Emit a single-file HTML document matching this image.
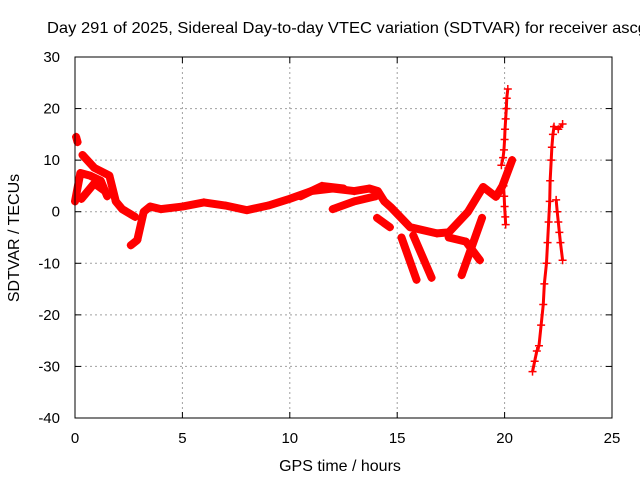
<!DOCTYPE html>
<html><head><meta charset="utf-8"><style>
body{margin:0;background:#fff;}
svg{display:block;font-family:"Liberation Sans",sans-serif;}
</style></head><body>
<svg id="chart" width="640" height="480" viewBox="0 0 640 480" xmlns="http://www.w3.org/2000/svg">
<rect width="640" height="480" fill="#fff"/>
<text x="47" y="33" font-size="16" textLength="600" lengthAdjust="spacingAndGlyphs" fill="#000">Day 291 of 2025, Sidereal Day-to-day VTEC variation (SDTVAR) for receiver ascg</text>
<g id="grid"></g>
<g id="axes"></g>
<g id="series"></g>
<rect x="75" y="57" width="537" height="361" fill="none" stroke="#000" stroke-width="1"/>
<text x="340" y="471" font-size="16" text-anchor="middle">GPS time / hours</text>
<text transform="translate(19,238) rotate(-90)" font-size="16" text-anchor="middle">SDTVAR / TECUs</text>
</svg>
<script>
const xTicks=[0,5,10,15,20,25];
const yTicks=[-40,-30,-20,-10,0,10,20,30];
// dense tracks [hour, TECU]
const trackStart=[[0.05,14.5],[0.12,13.5]];
const trackA=[[0,2],[0.25,7.5],[0.7,7],[1.2,6],[1.5,3]];
const trackB=[[0.35,11],[0.9,8.5],[1.6,7],[1.9,2],[2.2,0.5],[2.6,-0.5],[2.8,-1]];
const trackC=[[0.3,2.5],[0.9,5.5],[1.4,4]];
const trackMain=[[2.6,-6.5],[2.9,-5.5],[3.2,0],[3.5,1],[4,0.5],[5,1],[6,1.8],[7,1.2],[8,0.3],[9,1.2],[10,2.5],[11,4],[12,4.5],[13,4],[13.7,4.5],[14.1,4],[14.4,2],[14.7,0.9],[15.6,-3],[16.85,-4.2],[17.4,-4]];
const trackUpper=[[10.5,3],[11.5,5],[12.5,4.5]];
const trackLower=[[12,0.5],[13,2],[14,3]];
const trackRise=[[17.4,-4],[18.3,0],[19,4.8],[19.6,2.9],[19.9,5],[20.35,10]];
const trackSide=[[14.06,-1.2],[14.66,-3]];
const trackFall1=[[15.2,-5],[15.9,-13.2]];
const trackFall2=[[15.75,-4.6],[16.6,-12.8]];
const trackFall3=[[18.95,-1.2],[18,-12.3]];
const trackFall4=[[17.4,-5],[18.2,-5.8],[18.85,-9.4]];
// sparse tracks
const spike1=[[20.15,23.8],[20.1,22],[20.08,20],[20.05,18],[20.02,16],[20,14],[19.97,12],[19.93,10.5],[19.85,9]];
const spike1b=[[19.95,5],[19.98,3],[20,1],[20.03,-1],[20.05,-2.5]];
const spike2=[[21.3,-31],[21.4,-29],[21.5,-27],[21.6,-26],[21.7,-22],[21.8,-18],[21.85,-14],[21.95,-10],[22,-6],[22.05,-2],[22.1,2],[22.12,6],[22.17,10],[22.2,12.5],[22.25,15],[22.3,16.5],[22.5,16],[22.7,17]];
const spike2b=[[22.4,2.3],[22.45,0],[22.5,-2],[22.55,-4],[22.6,-6],[22.7,-9.4]];
const denseTracks=[trackStart,trackA,trackB,trackC,trackMain,trackUpper,trackLower,trackRise,trackSide,trackFall1,trackFall2,trackFall3,trackFall4];
const sparseTracks=[spike1,spike1b,spike2,spike2b];

const X=t=>75+t*537/25;
const Y=v=>57+(30-v)*361/70;
const NS="http://www.w3.org/2000/svg";
function mk(tag,attrs,parent){const e=document.createElementNS(NS,tag);for(const k in attrs)e.setAttribute(k,attrs[k]);parent.appendChild(e);return e;}
const grid=document.getElementById('grid'),axes=document.getElementById('axes'),ser=document.getElementById('series');
xTicks.forEach(t=>{
  if(t>0&&t<25){const l=mk('line',{x1:X(t),x2:X(t),y1:57,y2:418,stroke:'#a0a0a0','stroke-dasharray':'2,3'},grid);
  
  }
  const tx=mk('text',{x:X(t),y:443,'font-size':15,'text-anchor':'middle'},axes);tx.textContent=t;
  
  
  mk('line',{x1:X(t),x2:X(t),y1:418,y2:412,stroke:'#000'},axes);
  mk('line',{x1:X(t),x2:X(t),y1:57,y2:63,stroke:'#000'},axes);
});
yTicks.forEach(v=>{
  if(v>-40&&v<30){const l=mk('line',{x1:75,x2:612,y1:Y(v),y2:Y(v),stroke:'#a0a0a0','stroke-dasharray':'2,3'},grid);
  
  }
  const tx=mk('text',{x:60,y:Y(v)+5,'font-size':15,'text-anchor':'end'},axes);tx.textContent=v;
  
  
  mk('line',{x1:75,x2:81,y1:Y(v),y2:Y(v),stroke:'#000'},axes);
  mk('line',{x1:612,x2:606,y1:Y(v),y2:Y(v),stroke:'#000'},axes);
});
function plus(t,v){const x=X(t),y=Y(v);
  const p=mk('path',{d:`M${x-4},${y}H${x+4}M${x},${y-4}V${y+4}`,stroke:'#f00','stroke-width':1.5},ser);
  
  }
denseTracks.forEach(tr=>{
  const pl=mk('polyline',{points:tr.map(p=>X(p[0])+','+Y(p[1])).join(' '),fill:'none',stroke:'#f00','stroke-width':8,'stroke-linejoin':'round','stroke-linecap':'round'},ser);
  
  
  tr.forEach(p=>plus(p[0],p[1]));
});
sparseTracks.forEach(tr=>{
  const pl=mk('polyline',{points:tr.map(p=>X(p[0])+','+Y(p[1])).join(' '),fill:'none',stroke:'#f00','stroke-width':3},ser);
  
  
  tr.forEach(p=>plus(p[0],p[1]));
});
</script>
</body></html>
